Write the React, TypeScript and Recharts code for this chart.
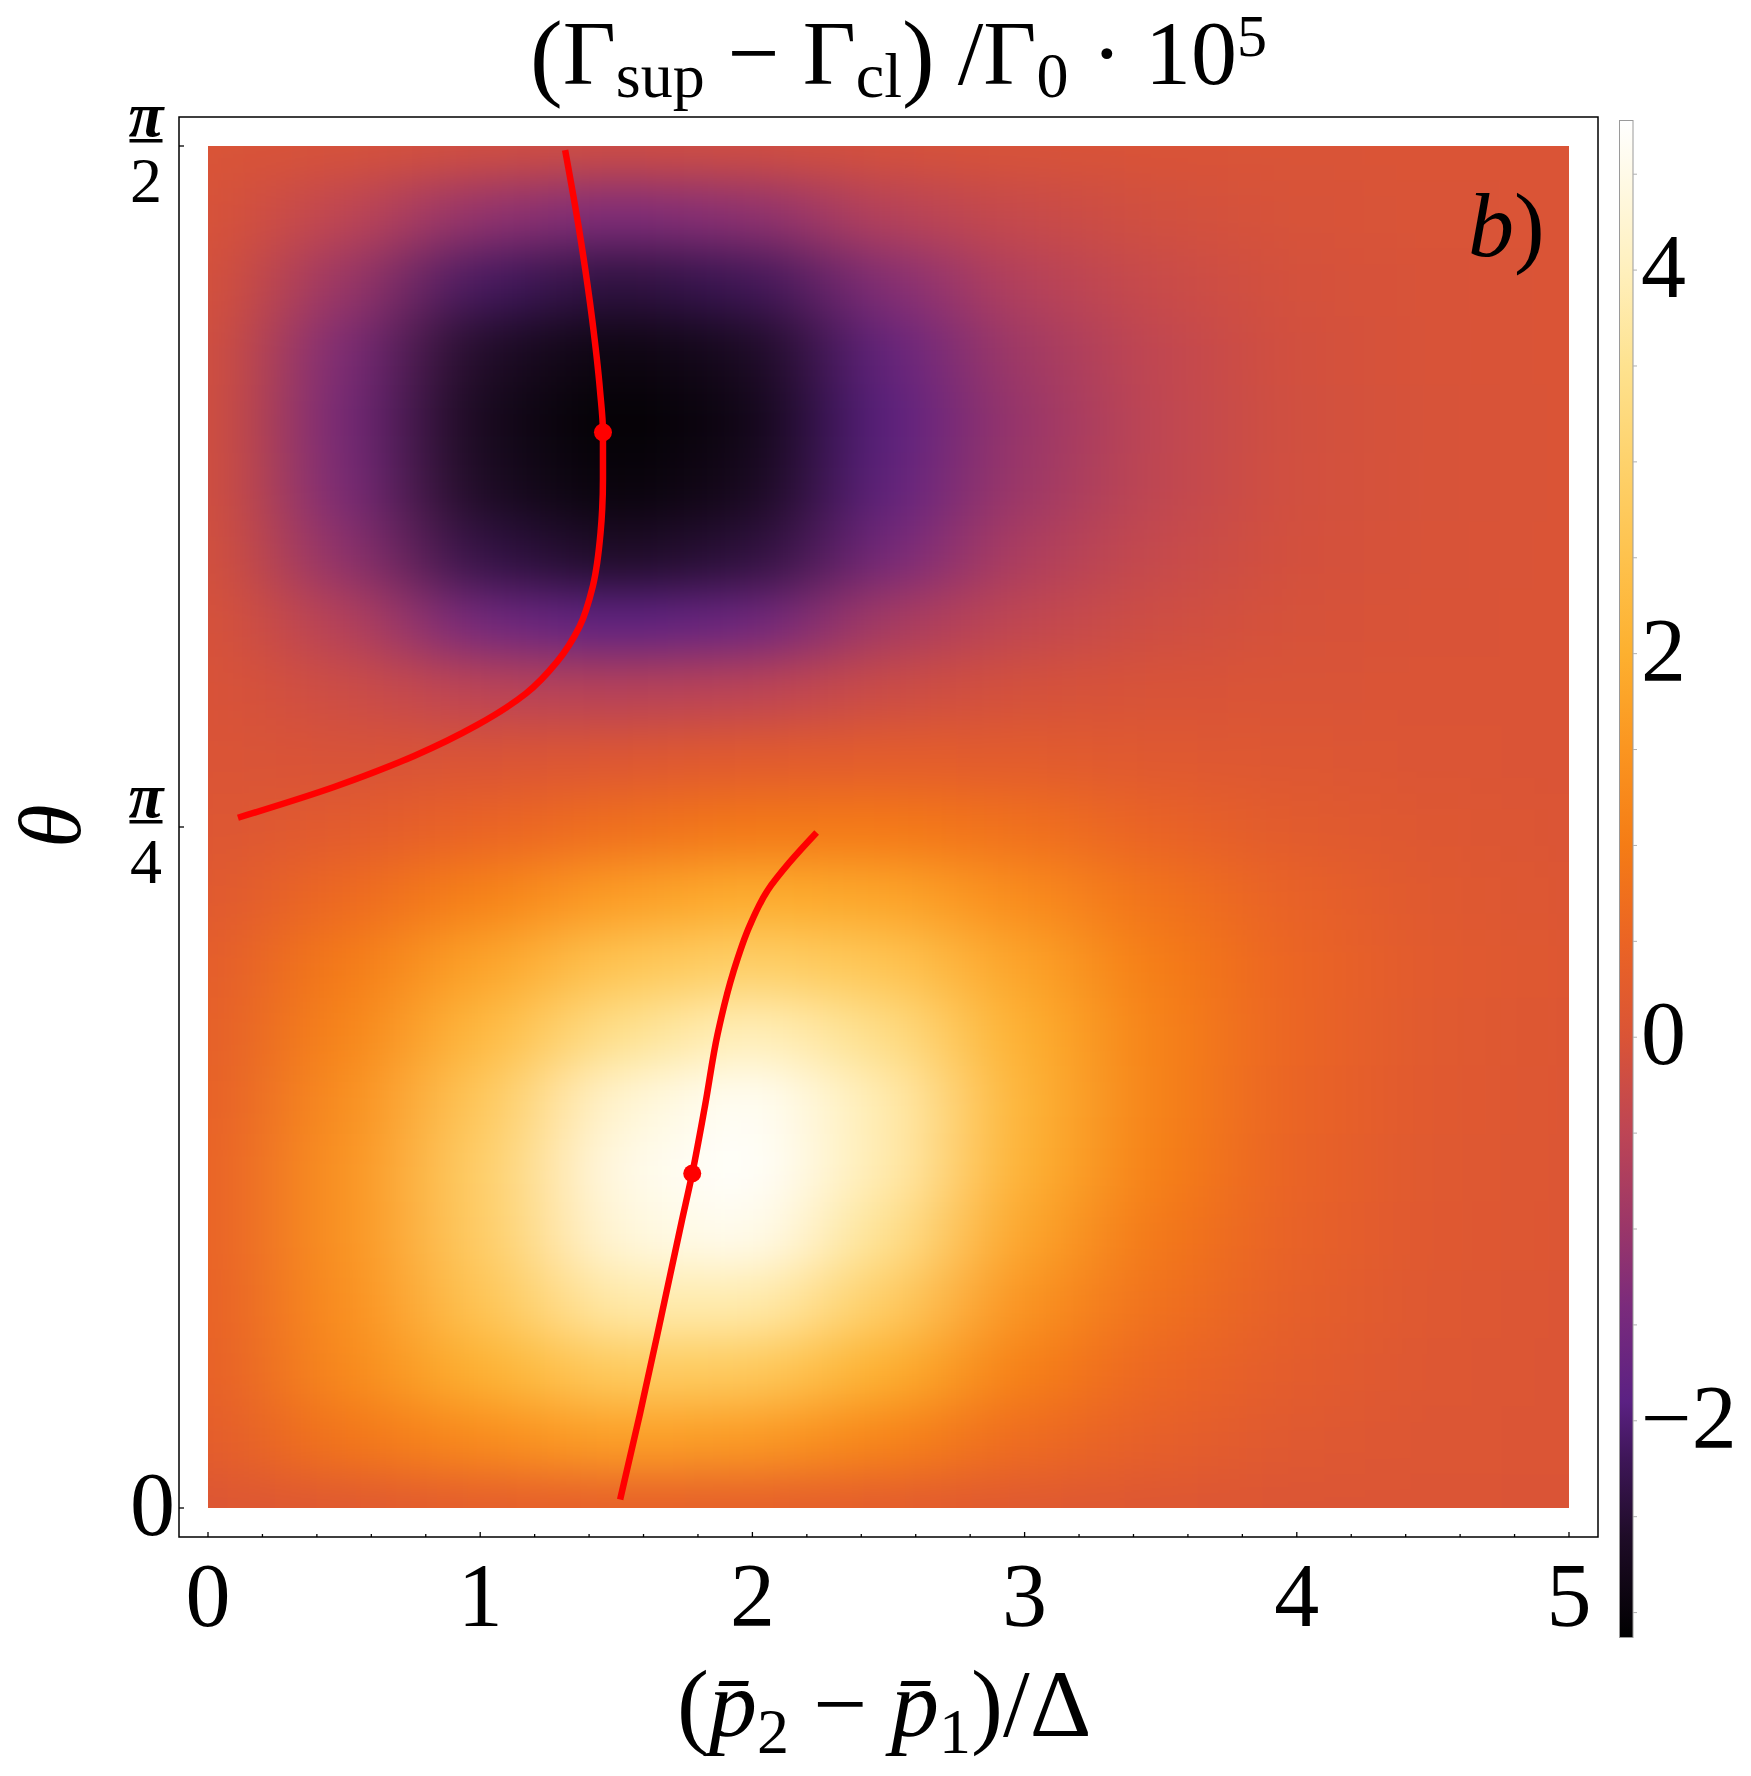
import React from 'react'
import { ComposedChart, XAxis, YAxis, Scatter, Line, ReferenceArea } from 'recharts'

// page + plot geometry (px)
const W = 1751
const H = 1776
const MARGIN = { top: 146, right: 182, bottom: 267, left: 207 }
const PLOT_W = W - MARGIN.left - MARGIN.right - 1
const PLOT_H = H - MARGIN.top - MARGIN.bottom - 1
const FRAME_GAP = 29
const FONT = "'Liberation Serif', 'DejaVu Serif', serif"

const X_MAX = 5
const T_MAX = Math.PI / 2
const FRAME_PAD_X = (FRAME_GAP / PLOT_W) * X_MAX
const FRAME_PAD_Y = (FRAME_GAP / PLOT_H) * T_MAX

// axis ticks
const X_TICKS = [0, 0.2, 0.4, 0.6, 0.8, 1, 1.2, 1.4, 1.6, 1.8, 2, 2.2, 2.4, 2.6, 2.8, 3, 3.2, 3.4, 3.6, 3.8, 4, 4.2, 4.4, 4.6, 4.8, 5]
const Y_TICKS = [0, Math.PI / 4, Math.PI / 2]
const Y_TICK_LABELS = ['0', 'π/4', 'π/2']

// colour scale (value -> colour)
const CMAP_VALUES = [-3.13, -2.6, -2.2, -1.9, -1.4, -1.0, -0.5, 0, 0.5, 1.0, 1.5, 2.0, 2.5, 3.0, 3.5, 4.0, 4.4, 4.78]
const CMAP_COLORS = ['#000000', '#1f0c28', '#3e1658', '#5b2183', '#7b2b7c', '#9a3669', '#bd4555', '#da5436', '#eb6424', '#f57c15', '#fb9520', '#fdb02f', '#fec24d', '#fed26c', '#fee28f', '#fff0bd', '#fff8df', '#ffffff']
const CB_TICKS = [-3, -2.5, -2, -1.5, -1, -0.5, 0, 0.5, 1, 1.5, 2, 2.5, 3, 3.5, 4, 4.5]
const CB_LABELS = [4, 2, 0, -2]

// density grid: columns in x, rows in θ/π (bottom to top), values ·10^5
const HEAT_X = [0, 0.5, 1, 1.5, 2, 2.5, 3, 3.5, 4, 4.5, 5]
const HEAT_T = [0, 0.025, 0.05, 0.075, 0.1, 0.125, 0.15, 0.175, 0.2, 0.225, 0.25, 0.275, 0.3, 0.325, 0.35, 0.375, 0.4, 0.425, 0.45, 0.475, 0.5]
const HEAT_V = [
  [0.05, 0.15, 0.28, 0.35, 0.33, 0.25, 0.15, 0.08, 0.04, 0.02, 0],
  [0.25, 0.85, 1.3, 1.7, 1.6, 1.15, 0.65, 0.34, 0.15, 0.05, 0.02],
  [0.35, 1.25, 2.05, 2.8, 2.75, 2.0, 1.05, 0.55, 0.25, 0.09, 0.03],
  [0.38, 1.38, 2.6, 3.8, 3.85, 2.85, 1.45, 0.75, 0.33, 0.12, 0.04],
  [0.4, 1.45, 2.85, 4.35, 4.6, 3.5, 1.8, 0.9, 0.4, 0.14, 0.05],
  [0.4, 1.45, 2.9, 4.5, 4.78, 3.85, 2.05, 1.05, 0.45, 0.15, 0.05],
  [0.35, 1.35, 2.7, 4.25, 4.7, 3.85, 2.1, 1.1, 0.48, 0.17, 0.06],
  [0.3, 1.15, 2.25, 3.45, 4.0, 3.35, 2.0, 1.1, 0.5, 0.18, 0.07],
  [0.25, 0.95, 1.75, 2.6, 2.95, 2.6, 1.75, 1.0, 0.5, 0.2, 0.1],
  [0.15, 0.6, 1.1, 1.65, 1.95, 1.8, 1.3, 0.8, 0.4, 0.16, 0.06],
  [0.05, 0.23, 0.47, 0.72, 0.92, 0.93, 0.74, 0.45, 0.22, 0.1, 0.04],
  [0, -0.03, 0.01, 0.09, 0.21, 0.27, 0.24, 0.15, 0.08, 0.04, 0.01],
  [-0.02, -0.25, -0.52, -0.6, -0.52, -0.26, -0.1, -0.04, -0.01, 0, 0],
  [-0.05, -0.62, -1.56, -1.87, -1.64, -0.83, -0.43, -0.21, -0.07, -0.02, 0],
  [-0.08, -1.15, -2.35, -2.65, -2.43, -1.49, -0.72, -0.35, -0.12, -0.03, 0],
  [-0.1, -1.42, -2.66, -3.01, -2.76, -1.82, -0.94, -0.44, -0.14, -0.05, 0],
  [-0.1, -1.5, -2.75, -3.1, -2.85, -1.9, -1.0, -0.45, -0.15, -0.05, 0],
  [-0.1, -1.38, -2.59, -2.93, -2.68, -1.75, -0.88, -0.42, -0.13, -0.04, 0],
  [-0.07, -0.98, -2.13, -2.42, -2.2, -1.27, -0.62, -0.3, -0.1, -0.03, 0],
  [-0.03, -0.46, -1.1, -1.38, -1.17, -0.6, -0.32, -0.15, -0.05, -0.01, 0],
  [-0.01, -0.08, -0.18, -0.22, -0.19, -0.1, -0.05, -0.02, -0.01, 0, 0],
]

// red curves (θ in units of π) and their marked extrema
const TOP_X = [1.312, 1.363, 1.411, 1.44, 1.451, 1.451, 1.442, 1.414, 1.365, 1.282, 1.168, 0.988, 0.757, 0.463, 0.11]
const TOP_T = [0.4985, 0.4695, 0.4366, 0.4104, 0.3949, 0.3778, 0.3579, 0.3385, 0.3236, 0.3106, 0.299, 0.2874, 0.2761, 0.2647, 0.2534]
const BOT_X = [1.514, 1.587, 1.666, 1.74, 1.779, 1.826, 1.872, 1.93, 1.991, 2.057, 2.138, 2.236]
const BOT_T = [0.0031, 0.0346, 0.0707, 0.1051, 0.1228, 0.1477, 0.1739, 0.1968, 0.214, 0.2269, 0.2372, 0.248]
const DOT_X = [1.451, 1.779]
const DOT_T = [0.3949, 0.1228]

const heatCells = HEAT_T.flatMap((t, i) => HEAT_X.map((x, j) => ({ x, y: t * Math.PI, v: HEAT_V[i][j], i, j })))
const topCurve = TOP_X.map((x, k) => ({ x, y: TOP_T[k] * Math.PI }))
const botCurve = BOT_X.map((x, k) => ({ x, y: BOT_T[k] * Math.PI }))
const dots = DOT_X.map((x, k) => ({ x, y: DOT_T[k] * Math.PI }))

const V_MIN = CMAP_VALUES[0]
const V_MAX = CMAP_VALUES[CMAP_VALUES.length - 1]

function hexRgb(h: string) {
  return [parseInt(h.slice(1, 3), 16), parseInt(h.slice(3, 5), 16), parseInt(h.slice(5, 7), 16)]
}

function colorAt(v: number) {
  const c = Math.max(V_MIN, Math.min(V_MAX, v))
  let k = 0
  while (k < CMAP_VALUES.length - 2 && c > CMAP_VALUES[k + 1]) k++
  const t = (c - CMAP_VALUES[k]) / (CMAP_VALUES[k + 1] - CMAP_VALUES[k])
  const a = hexRgb(CMAP_COLORS[k])
  const b = hexRgb(CMAP_COLORS[k + 1])
  const m = a.map((q, n) => Math.round(q + (b[n] - q) * t))
  return `rgb(${m[0]},${m[1]},${m[2]})`
}

const CELL_W = PLOT_W / (HEAT_X.length - 1)
const CELL_H = PLOT_H / (HEAT_T.length - 1)
const EDGE_EXT = 140

function HeatCell(props: any) {
  const { cx, cy, payload } = props
  let x0 = cx - CELL_W / 2
  let x1 = cx + CELL_W / 2
  let y0 = cy - CELL_H / 2
  let y1 = cy + CELL_H / 2
  if (payload.j === 0) x0 -= EDGE_EXT
  if (payload.j === HEAT_X.length - 1) x1 += EDGE_EXT
  if (payload.i === 0) y1 += EDGE_EXT
  if (payload.i === HEAT_T.length - 1) y0 -= EDGE_EXT
  return <rect x={x0 - 0.5} y={y0 - 0.5} width={x1 - x0 + 1} height={y1 - y0 + 1} fill={colorAt(payload.v)} />
}

function XTick(props: any) {
  const { x, y, payload } = props
  const v = payload.value
  const major = Math.abs(v - Math.round(v)) < 1e-6
  const base = y + FRAME_GAP
  return (
    <g>
      <line x1={x} x2={x} y1={base} y2={base - (major ? 5 : 3)} stroke="#000" strokeWidth={1.3} />
      {major && (
        <text x={x} y={base + 89} textAnchor="middle" fontFamily={FONT} fontSize={90} fill="#000">
          {Math.round(v)}
        </text>
      )}
    </g>
  )
}

function YTick(props: any) {
  const { x, y, payload, index } = props
  const fx = x - FRAME_GAP
  const label = Y_TICK_LABELS[index] ?? String(payload.value)
  const parts = label.split('/')
  const xc = fx - 33
  return (
    <g>
      <line x1={fx} x2={fx + 5} y1={y} y2={y} stroke="#000" strokeWidth={1.3} />
      {parts.length === 1 ? (
        <text x={fx - 4} y={y + 27} textAnchor="end" fontFamily={FONT} fontSize={90} fill="#000">
          {label}
        </text>
      ) : (
        <g>
          <text x={xc} y={y - 10} textAnchor="middle" fontFamily={FONT} fontSize={64} fontStyle="italic" fontWeight="bold" fill="#000">
            {parts[0]}
          </text>
          <rect x={xc - 16.5} y={y - 7} width={33} height={3.5} fill="#000" />
          <text x={xc} y={y + 56} textAnchor="middle" fontFamily={FONT} fontSize={64} fill="#000">
            {parts[1]}
          </text>
        </g>
      )}
    </g>
  )
}

const CB = { x: 1619.5, y: 120.5, w: 13.5, h: 1517 }
const cbY = (v: number) => CB.y + ((V_MAX - v) / (V_MAX - V_MIN)) * CB.h

function Overlay() {
  return (
    <svg width={W} height={H} style={{ position: 'absolute', left: 0, top: 0, pointerEvents: 'none' }}>
      <defs>
        <filter id="heatBlur" x="-20%" y="-20%" width="140%" height="140%" colorInterpolationFilters="sRGB">
          <feGaussianBlur stdDeviation="50 24" />
        </filter>
        <linearGradient id="cbGrad" x1="0" y1="1" x2="0" y2="0">
          {CMAP_VALUES.map((v, k) => (
            <stop key={k} offset={(v - V_MIN) / (V_MAX - V_MIN)} stopColor={CMAP_COLORS[k]} />
          ))}
        </linearGradient>
      </defs>

      {/* title */}
      <text x={530} y={84} fontFamily={FONT} fontSize={92} fill="#000">
        <tspan fontSize={98} dy={4}>(</tspan>
        <tspan dy={-4}>Γ</tspan>
        <tspan fontSize={64} dy={13}>sup</tspan>
        <tspan dy={-13}>{' − '}</tspan>
        <tspan>Γ</tspan>
        <tspan fontSize={64} dy={13}>cl</tspan>
        <tspan fontSize={98} dy={-9}>)</tspan>
        <tspan dy={-4}>{' /'}</tspan>
        <tspan>Γ</tspan>
        <tspan fontSize={64} dy={13}>0</tspan>
        <tspan dy={-13}>{' · 10'}</tspan>
        <tspan fontSize={60} dy={-28}>5</tspan>
      </text>

      {/* axis labels */}
      <text x={80} y={826} transform="rotate(-90 80 826)" textAnchor="middle" fontFamily={FONT} fontSize={88} fontStyle="italic" fill="#000">
        θ
      </text>
      <text x={677} y={1736} fontFamily={FONT} fontSize={96} fill="#000">
        <tspan>(</tspan>
        <tspan fontStyle="italic">{'p\u0304'}</tspan>
        <tspan fontSize={64} dy={17}>2</tspan>
        <tspan dy={-17}>{' − '}</tspan>
        <tspan fontStyle="italic">{'p\u0304'}</tspan>
        <tspan fontSize={64} dy={17}>1</tspan>
        <tspan dy={-17}>)/Δ</tspan>
      </text>

      {/* panel tag */}
      <text x={1468} y={256} fontFamily={FONT} fontSize={92} fill="#000">
        <tspan fontStyle="italic">b</tspan>
        <tspan>)</tspan>
      </text>

      {/* colour bar */}
      <rect x={CB.x} y={CB.y} width={CB.w} height={CB.h} fill="url(#cbGrad)" stroke="#9a9a9a" strokeWidth={1} />
      {CB_TICKS.map((v) => (
        <line key={v} x1={CB.x + CB.w} x2={CB.x + CB.w + 4} y1={cbY(v)} y2={cbY(v)} stroke="#b0b0b0" strokeWidth={1} />
      ))}
      {CB_LABELS.map((v) => (
        <text key={v} x={1641} y={cbY(v) + 27} fontFamily={FONT} fontSize={90} fill="#000">
          {v < 0 ? `−${Math.abs(v)}` : v}
        </text>
      ))}
    </svg>
  )
}

export default function App() {
  return (
    <div style={{ position: 'absolute', left: 0, top: 0, width: W, height: H, background: '#fff' }}>
      <style>{'.heat { filter: url(#heatBlur); }'}</style>
      <div style={{ position: 'absolute', left: 0, top: 0 }}>
        <ComposedChart width={W} height={H} margin={MARGIN}>
          <XAxis
            type="number"
            dataKey="x"
            domain={[0, X_MAX]}
            allowDataOverflow
            ticks={X_TICKS}
            interval={0}
            height={1}
            axisLine={false}
            tickLine={false}
            tickSize={0}
            tickMargin={0}
            tick={(p: any) => <XTick {...p} />}
          />
          <YAxis
            type="number"
            dataKey="y"
            domain={[0, T_MAX]}
            allowDataOverflow
            ticks={Y_TICKS}
            interval={0}
            width={1}
            axisLine={false}
            tickLine={false}
            tickSize={0}
            tickMargin={0}
            tick={(p: any) => <YTick {...p} />}
          />
          <Scatter data={heatCells} className="heat" shape={(p: any) => <HeatCell {...p} />} isAnimationActive={false} zIndex={-200} />
          <ReferenceArea
            x1={-FRAME_PAD_X}
            x2={X_MAX + FRAME_PAD_X}
            y1={-FRAME_PAD_Y}
            y2={T_MAX + FRAME_PAD_Y}
            ifOverflow="visible"
            fill="none"
            stroke="#000"
            strokeWidth={1.5}
          />
          <Line data={topCurve} dataKey="y" type="monotoneY" stroke="#ff0000" strokeWidth={6.5} dot={false} isAnimationActive={false} />
          <Line data={botCurve} dataKey="y" type="monotoneY" stroke="#ff0000" strokeWidth={6.5} dot={false} isAnimationActive={false} />
          <Scatter data={dots} shape={(p: any) => <circle cx={p.cx} cy={p.cy} r={9} fill="#ff0000" />} isAnimationActive={false} />
        </ComposedChart>
      </div>
      <Overlay />
    </div>
  )
}
